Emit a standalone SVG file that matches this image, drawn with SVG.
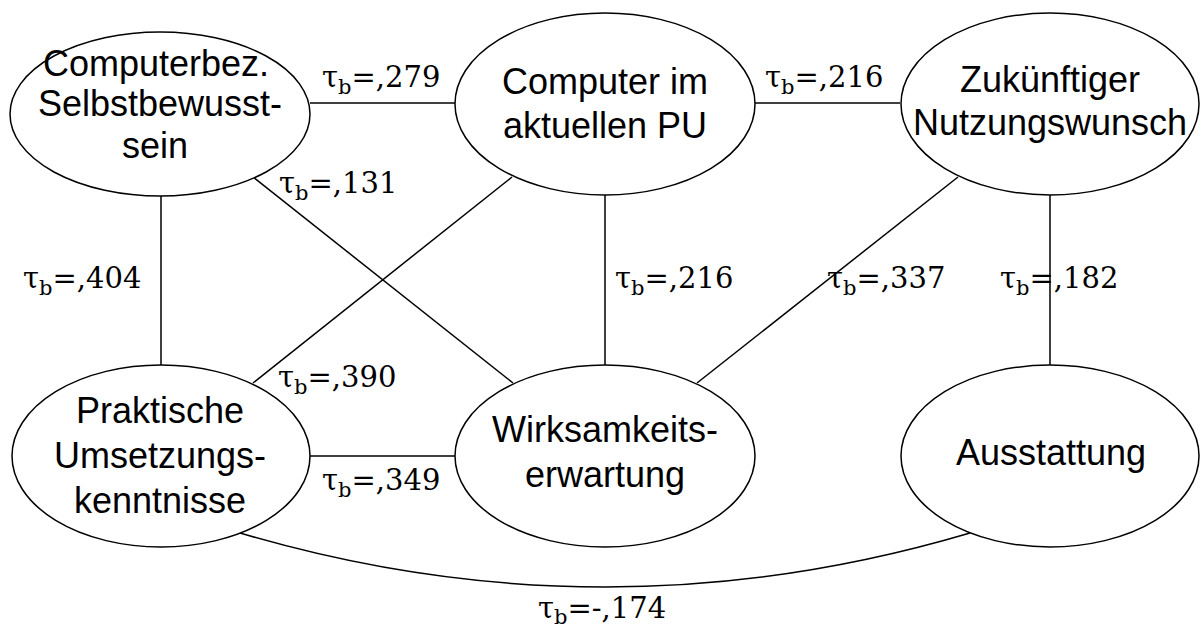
<svg xmlns="http://www.w3.org/2000/svg" width="1200" height="628" viewBox="0 0 1200 628">
<style>
.n ellipse{fill:#fff;stroke:#000;stroke-width:1.5}
.n text{font-family:"Liberation Sans",Arial,sans-serif;font-size:36px;text-anchor:middle;fill:#000}
.c line,.c path{stroke:#000;stroke-width:1.5;fill:none}
.l text{font-family:"DejaVu Serif","Liberation Serif",serif;font-size:29px;fill:#000}
.s{font-size:21px}
</style>
<rect width="1200" height="628" fill="#fff"/>
<g class="c" id="connectors">
<line x1="310" y1="103" x2="455" y2="103"/>
<line x1="755" y1="103" x2="900" y2="103"/>
<line x1="161" y1="195" x2="161" y2="365"/>
<line x1="605" y1="194" x2="605" y2="365"/>
<line x1="1050" y1="194" x2="1050" y2="365"/>
<line x1="310" y1="456" x2="456" y2="456"/>
<line x1="253" y1="177" x2="513" y2="383"/>
<line x1="512" y1="177" x2="253" y2="383"/>
<line x1="958" y1="177" x2="697" y2="383"/>
<path d="M240,533 Q605,641 970,533"/>
</g>
<g class="n" id="n1">
<ellipse cx="160" cy="114" rx="150" ry="82"/>
<text x="156" y="76">Computerbez.</text>
<text x="160" y="116">Selbstbewusst-</text>
<text x="155" y="158">sein</text>
</g>
<g class="n" id="n2">
<ellipse cx="605" cy="104" rx="150" ry="91"/>
<text x="605" y="94">Computer im</text>
<text x="605" y="138">aktuellen PU</text>
</g>
<g class="n" id="n3">
<ellipse cx="1050" cy="104" rx="149" ry="91"/>
<text x="1050" y="92">Zukünftiger</text>
<text x="1050" y="135">Nutzungswunsch</text>
</g>
<g class="n" id="n4">
<ellipse cx="161" cy="456" rx="149" ry="91"/>
<text x="160" y="423">Praktische</text>
<text x="160" y="468">Umsetzungs-</text>
<text x="160" y="513">kenntnisse</text>
</g>
<g class="n" id="n5">
<ellipse cx="605" cy="456" rx="150" ry="91"/>
<text x="605" y="442">Wirksamkeits-</text>
<text x="605" y="487">erwartung</text>
</g>
<g class="n" id="n6">
<ellipse cx="1050" cy="456" rx="149" ry="91"/>
<text x="1051" y="465">Ausstattung</text>
</g>
<g class="l" id="labels">
<text x="322" y="87">τ<tspan class="s" dy="7">b</tspan><tspan dy="-7">=,279</tspan></text>
<text x="765" y="87">τ<tspan class="s" dy="7">b</tspan><tspan dy="-7">=,216</tspan></text>
<text x="279" y="193">τ<tspan class="s" dy="7">b</tspan><tspan dy="-7">=,131</tspan></text>
<text x="23" y="288">τ<tspan class="s" dy="7">b</tspan><tspan dy="-7">=,404</tspan></text>
<text x="278" y="387">τ<tspan class="s" dy="7">b</tspan><tspan dy="-7">=,390</tspan></text>
<text x="322" y="490">τ<tspan class="s" dy="7">b</tspan><tspan dy="-7">=,349</tspan></text>
<text x="615" y="288">τ<tspan class="s" dy="7">b</tspan><tspan dy="-7">=,216</tspan></text>
<text x="827" y="288">τ<tspan class="s" dy="7">b</tspan><tspan dy="-7">=,337</tspan></text>
<text x="1000" y="288">τ<tspan class="s" dy="7">b</tspan><tspan dy="-7">=,182</tspan></text>
<text x="538" y="618">τ<tspan class="s" dy="6">b</tspan><tspan dy="-6">=-,174</tspan></text>
</g>
</svg>
